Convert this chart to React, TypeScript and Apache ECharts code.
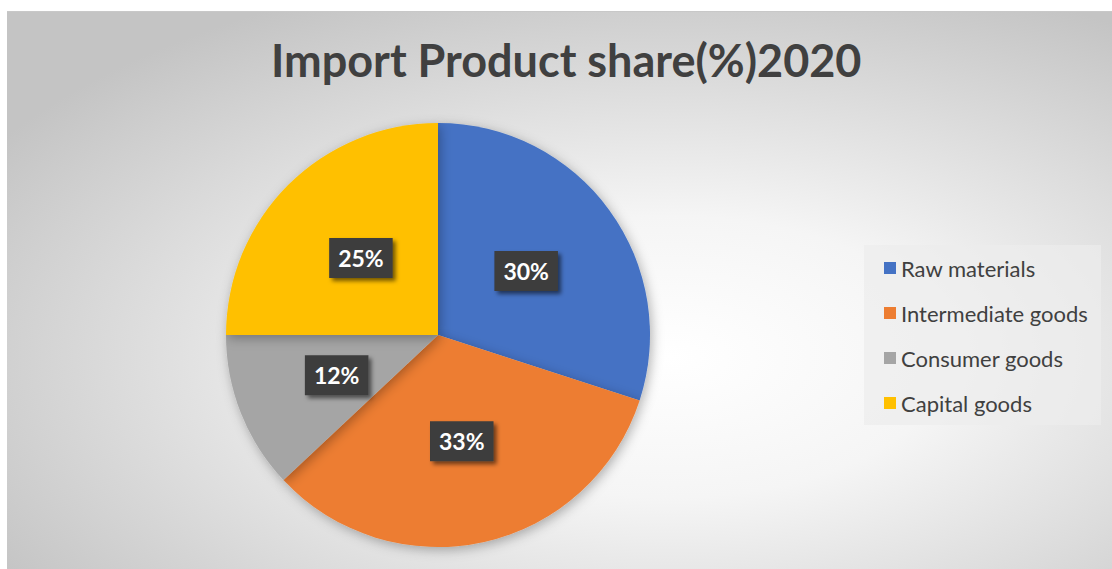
import React, { useEffect, useRef } from "react";
import * as echarts from "echarts";

const titleText = "Import Product share(%)2020";
const categories = ["Raw materials", "Intermediate goods", "Consumer goods", "Capital goods"];
const shares = [30, 33, 12, 25];
const colors = ["#4472C4", "#ED7D31", "#A5A5A5", "#FFC000"];

export default function App() {
  const ref = useRef<HTMLDivElement>(null);
  useEffect(() => {
    if (!ref.current) return;
    const chart = echarts.init(ref.current, null, { renderer: "svg" });
    const font = "Lato, 'Open Sans', sans-serif";
    chart.setOption({
      animation: false,
      graphic: [
        {
          type: "rect",
          z: -10,
          shape: { x: 7, y: 11, width: 1105, height: 558 },
          style: {
            fill: new echarts.graphic.RadialGradient(0.6, 0.62, 0.72, [
              { offset: 0, color: "#ffffff" },
              { offset: 0.35, color: "#f5f5f5" },
              { offset: 1, color: "#c4c4c4" },
            ]),
          },
        },
        {
          type: "line",
          z: -9,
          shape: { x1: 7, y1: 11.5, x2: 1112, y2: 11.5 },
          style: { stroke: "#c8c8c8", lineWidth: 1 },
        },
        {
          type: "rect",
          z: -8,
          shape: { x: 864, y: 245, width: 237, height: 180 },
          style: { fill: "rgba(236,236,236,0.7)" },
        },
      ],
      title: {
        text: titleText,
        left: 266,
        top: 32,
        padding: 5,
        textStyle: { fontFamily: font, fontWeight: "bold", fontSize: 45, color: "#404040" },
      },
      legend: {
        orient: "vertical",
        left: 879,
        top: 252,
        icon: "rect",
        itemWidth: 12,
        itemHeight: 12,
        itemGap: 23,
        textStyle: { fontFamily: font, fontSize: 22, color: "#404040", lineHeight: 22 },
        data: categories,
      },
      series: [
        {
          type: "pie",
          center: [438, 335],
          radius: [0, 212],
          startAngle: 90,
          clockwise: true,
          data: categories.map((c, i) => ({ name: c, value: shares[i], itemStyle: { color: colors[i] } })),
          itemStyle: { shadowBlur: 12, shadowColor: "rgba(0,0,0,0.3)", shadowOffsetX: 2, shadowOffsetY: 3 },
          label: {
            show: true,
            position: "inside",
            formatter: "{c}%",
            fontFamily: font,
            fontWeight: "bold",
            fontSize: 23,
            color: "#ffffff",
            backgroundColor: "#3c3c3c",
            padding: [9, 9, 8, 9],
            shadowColor: "rgba(0,0,0,0.55)",
            shadowBlur: 4,
            shadowOffsetX: 3,
            shadowOffsetY: 3,
          },
          labelLine: { show: false },
          emphasis: { disabled: true },
        },
      ],
    });
    return () => chart.dispose();
  }, []);
  return (
    <div
      ref={ref}
      style={{ position: "absolute", left: 0, top: 0, width: 1112, height: 569 }}
    />
  );
}
